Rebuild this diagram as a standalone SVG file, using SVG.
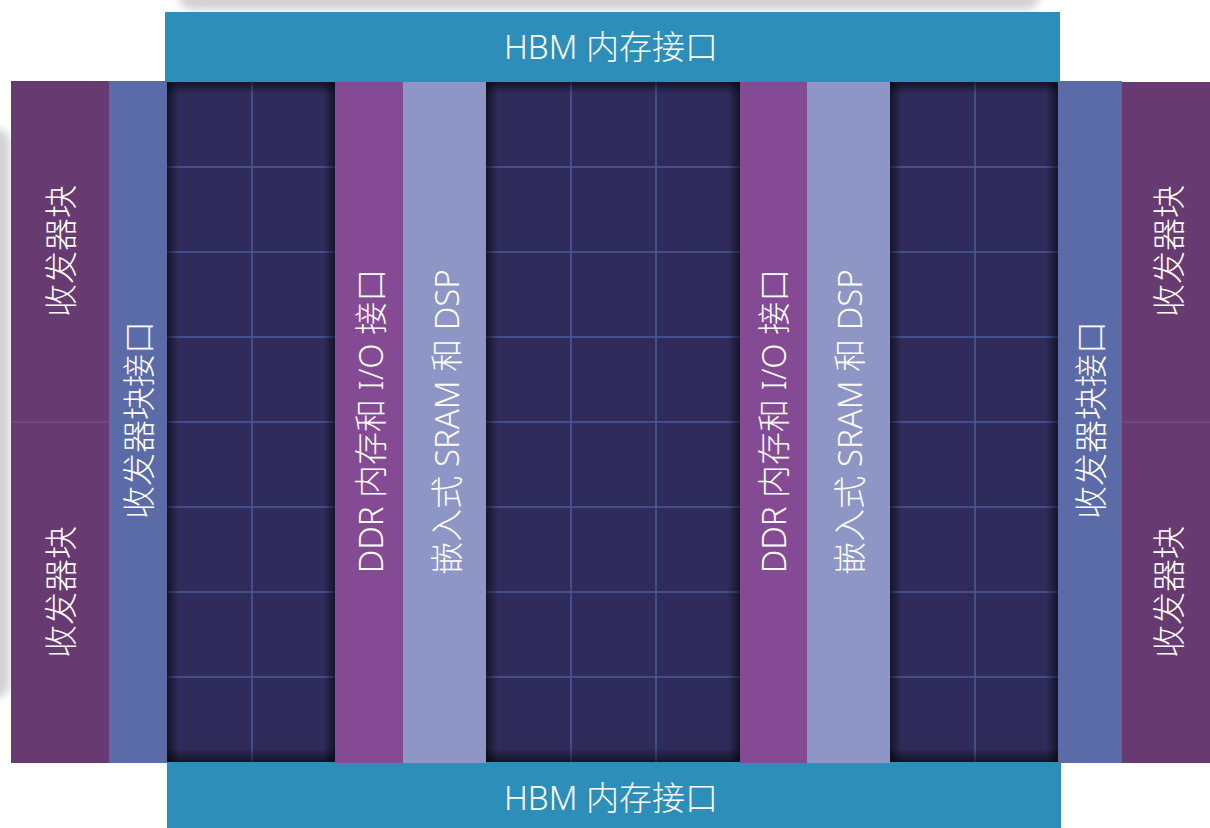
<svg xmlns="http://www.w3.org/2000/svg" width="1210" height="828" viewBox="0 0 1210 828">
<style>
.t{fill:#ffffff;font-family:"Noto Sans","Noto Sans CJK SC",sans-serif;font-size:33px;font-weight:300;text-anchor:middle;dominant-baseline:central}
.hbm{fill:#2e8eba}
.xcv{fill:#673a72}
.xif{fill:#5b6ba8}
.ddr{fill:#844b94}
.sram{fill:#8d96c5}
.fab{fill:#2f2c5b}
.grid{stroke:#4b5a9c;stroke-width:1.5;fill:none}
</style>
<defs>
<filter id="blur" x="-20%" y="-20%" width="140%" height="140%"><feGaussianBlur stdDeviation="4"/></filter>
<linearGradient id="shL" x1="0" y1="0" x2="1" y2="0"><stop offset="0" stop-color="#000" stop-opacity="0.55"/><stop offset="1" stop-color="#000" stop-opacity="0"/></linearGradient>
<linearGradient id="shR" x1="1" y1="0" x2="0" y2="0"><stop offset="0" stop-color="#000" stop-opacity="0.55"/><stop offset="1" stop-color="#000" stop-opacity="0"/></linearGradient>
<linearGradient id="shT" x1="0" y1="0" x2="0" y2="1"><stop offset="0" stop-color="#000" stop-opacity="0.55"/><stop offset="1" stop-color="#000" stop-opacity="0"/></linearGradient>
<linearGradient id="shB" x1="0" y1="1" x2="0" y2="0"><stop offset="0" stop-color="#000" stop-opacity="0.55"/><stop offset="1" stop-color="#000" stop-opacity="0"/></linearGradient>
</defs>
<rect width="1210" height="828" fill="#ffffff"/>
<g id="backdrop" filter="url(#blur)" fill="#d2d2d2">
<rect x="178" y="-20" width="862" height="30" rx="15"/>
<rect x="-20" y="128" width="30" height="570" rx="15"/>
</g>
<g id="hbm-top"><rect class="hbm" x="165" y="12" width="895" height="70"/><text class="t" x="611" y="46">HBM 内存接口</text></g>
<g id="hbm-bottom"><rect class="hbm" x="167" y="762" width="894" height="66"/><text class="t" x="611" y="797">HBM 内存接口</text></g>
<g id="xcvr-left-top"><rect class="xcv" x="11" y="81" width="98" height="341"/><text class="t" transform="translate(60,251) rotate(-90)">收发器块</text></g>
<g id="xcvr-left-bottom"><rect class="xcv" x="11" y="422" width="98" height="341"/><line x1="11" y1="422" x2="109" y2="422" stroke="#7a5688" stroke-width="1"/><text class="t" transform="translate(60,592) rotate(-90)">收发器块</text></g>
<g id="xif-left"><rect class="xif" x="109" y="81" width="58" height="682"/><text class="t" transform="translate(138,420) rotate(-90)">收发器块接口</text></g>
<g id="fabric-1"><rect class="fab" x="167" y="82" width="168" height="680"/>
<path class="grid" d="M252 82V762M167 167H335M167 252H335M167 337H335M167 422H335M167 507H335M167 592H335M167 677H335"/>
<rect x="167" y="82" width="12" height="680" fill="url(#shL)"/><rect x="323" y="82" width="12" height="680" fill="url(#shR)"/><rect x="167" y="82" width="168" height="12" fill="url(#shT)"/><rect x="167" y="748" width="168" height="14" fill="url(#shB)"/></g>
<g id="ddr-left"><rect class="ddr" x="335" y="82" width="68" height="681"/><text class="t" transform="translate(370,421) rotate(-90)">DDR 内存和 I/O 接口</text></g>
<g id="sram-left"><rect class="sram" x="403" y="82" width="83" height="681"/><text class="t" transform="translate(446,422) rotate(-90)">嵌入式 SRAM 和 DSP</text></g>
<g id="fabric-2"><rect class="fab" x="486" y="82" width="254" height="680"/>
<path class="grid" d="M571 82V762M656 82V762M486 167H740M486 252H740M486 337H740M486 422H740M486 507H740M486 592H740M486 677H740"/>
<rect x="486" y="82" width="12" height="680" fill="url(#shL)"/><rect x="728" y="82" width="12" height="680" fill="url(#shR)"/><rect x="486" y="82" width="254" height="12" fill="url(#shT)"/><rect x="486" y="748" width="254" height="14" fill="url(#shB)"/></g>
<g id="ddr-right"><rect class="ddr" x="740" y="82" width="67" height="681"/><text class="t" transform="translate(773,421) rotate(-90)">DDR 内存和 I/O 接口</text></g>
<g id="sram-right"><rect class="sram" x="807" y="82" width="83" height="681"/><text class="t" transform="translate(849,422) rotate(-90)">嵌入式 SRAM 和 DSP</text></g>
<g id="fabric-3"><rect class="fab" x="890" y="82" width="168" height="680"/>
<path class="grid" d="M975 82V762M890 167H1058M890 252H1058M890 337H1058M890 422H1058M890 507H1058M890 592H1058M890 677H1058"/>
<rect x="890" y="82" width="12" height="680" fill="url(#shL)"/><rect x="1046" y="82" width="12" height="680" fill="url(#shR)"/><rect x="890" y="82" width="168" height="12" fill="url(#shT)"/><rect x="890" y="748" width="168" height="14" fill="url(#shB)"/></g>
<g id="xif-right"><rect class="xif" x="1058" y="81" width="64" height="682"/><text class="t" transform="translate(1090,420) rotate(-90)">收发器块接口</text></g>
<g id="xcvr-right-top"><rect class="xcv" x="1122" y="82" width="88" height="340"/><text class="t" transform="translate(1168,251) rotate(-90)">收发器块</text></g>
<g id="xcvr-right-bottom"><rect class="xcv" x="1122" y="422" width="88" height="341"/><line x1="1122" y1="422" x2="1210" y2="422" stroke="#7a5688" stroke-width="1"/><text class="t" transform="translate(1168,592) rotate(-90)">收发器块</text></g>
<g id="connectors"></g>
</svg>
